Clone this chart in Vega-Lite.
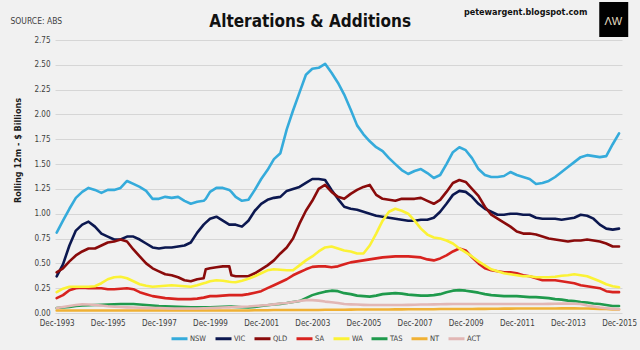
{
  "$schema": "https://vega.github.io/schema/vega-lite/v6.json",
  "width": 567,
  "height": 273,
  "autosize": {"type": "none"},
  "padding": {"left": 55, "top": 40, "right": 18, "bottom": 37},
  "background": "#f1f1f1",
  "config": {
    "view": {"stroke": null},
    "font": "'Liberation Sans Narrow', 'DejaVu Sans Condensed', 'Liberation Sans', sans-serif",
    "axis": {"labelFont": "'Liberation Sans Narrow', 'DejaVu Sans Condensed', 'Liberation Sans', sans-serif", "titleFont": "'Liberation Sans Narrow', 'DejaVu Sans Condensed', 'Liberation Sans', sans-serif"},
    "legend": {"labelFont": "'Liberation Sans Narrow', 'DejaVu Sans Condensed', 'Liberation Sans', sans-serif"}
  },
  "datasets": {
    "series": [
      {"d":"1993-12-01","NSW":0.81,"VIC":0.37,"QLD":0.41,"SA":0.15,"WA":0.21,"TAS":0.05,"NT":0.025,"ACT":0.05},
      {"d":"1994-03-01","NSW":0.93,"VIC":0.49,"QLD":0.45,"SA":0.18,"WA":0.245,"TAS":0.055,"NT":0.025,"ACT":0.06},
      {"d":"1994-06-01","NSW":1.05,"VIC":0.68,"QLD":0.52,"SA":0.23,"WA":0.265,"TAS":0.06,"NT":0.025,"ACT":0.07},
      {"d":"1994-09-01","NSW":1.16,"VIC":0.83,"QLD":0.58,"SA":0.25,"WA":0.265,"TAS":0.07,"NT":0.025,"ACT":0.08},
      {"d":"1994-12-01","NSW":1.22,"VIC":0.89,"QLD":0.62,"SA":0.255,"WA":0.265,"TAS":0.075,"NT":0.025,"ACT":0.087},
      {"d":"1995-03-01","NSW":1.26,"VIC":0.92,"QLD":0.65,"SA":0.25,"WA":0.265,"TAS":0.078,"NT":0.025,"ACT":0.085},
      {"d":"1995-06-01","NSW":1.24,"VIC":0.87,"QLD":0.65,"SA":0.25,"WA":0.27,"TAS":0.08,"NT":0.025,"ACT":0.08},
      {"d":"1995-09-01","NSW":1.21,"VIC":0.80,"QLD":0.68,"SA":0.25,"WA":0.30,"TAS":0.082,"NT":0.025,"ACT":0.075},
      {"d":"1995-12-01","NSW":1.24,"VIC":0.77,"QLD":0.71,"SA":0.24,"WA":0.34,"TAS":0.085,"NT":0.025,"ACT":0.068},
      {"d":"1996-03-01","NSW":1.24,"VIC":0.74,"QLD":0.72,"SA":0.24,"WA":0.36,"TAS":0.088,"NT":0.025,"ACT":0.063},
      {"d":"1996-06-01","NSW":1.26,"VIC":0.74,"QLD":0.74,"SA":0.245,"WA":0.365,"TAS":0.09,"NT":0.025,"ACT":0.06},
      {"d":"1996-09-01","NSW":1.33,"VIC":0.77,"QLD":0.72,"SA":0.25,"WA":0.35,"TAS":0.09,"NT":0.025,"ACT":0.057},
      {"d":"1996-12-01","NSW":1.30,"VIC":0.77,"QLD":0.64,"SA":0.24,"WA":0.32,"TAS":0.09,"NT":0.025,"ACT":0.055},
      {"d":"1997-03-01","NSW":1.27,"VIC":0.74,"QLD":0.57,"SA":0.21,"WA":0.29,"TAS":0.085,"NT":0.025,"ACT":0.053},
      {"d":"1997-06-01","NSW":1.23,"VIC":0.70,"QLD":0.50,"SA":0.19,"WA":0.275,"TAS":0.08,"NT":0.025,"ACT":0.052},
      {"d":"1997-09-01","NSW":1.15,"VIC":0.66,"QLD":0.45,"SA":0.17,"WA":0.265,"TAS":0.075,"NT":0.025,"ACT":0.05},
      {"d":"1997-12-01","NSW":1.15,"VIC":0.65,"QLD":0.42,"SA":0.16,"WA":0.27,"TAS":0.07,"NT":0.025,"ACT":0.05},
      {"d":"1998-03-01","NSW":1.17,"VIC":0.66,"QLD":0.39,"SA":0.15,"WA":0.275,"TAS":0.067,"NT":0.025,"ACT":0.048},
      {"d":"1998-06-01","NSW":1.16,"VIC":0.66,"QLD":0.38,"SA":0.145,"WA":0.28,"TAS":0.065,"NT":0.025,"ACT":0.046},
      {"d":"1998-09-01","NSW":1.17,"VIC":0.67,"QLD":0.36,"SA":0.14,"WA":0.275,"TAS":0.062,"NT":0.025,"ACT":0.045},
      {"d":"1998-12-01","NSW":1.13,"VIC":0.68,"QLD":0.33,"SA":0.14,"WA":0.27,"TAS":0.06,"NT":0.025,"ACT":0.045},
      {"d":"1999-03-01","NSW":1.10,"VIC":0.71,"QLD":0.32,"SA":0.14,"WA":0.265,"TAS":0.058,"NT":0.025,"ACT":0.045},
      {"d":"1999-06-01","NSW":1.12,"VIC":0.81,"QLD":0.34,"SA":0.145,"WA":0.28,"TAS":0.057,"NT":0.025,"ACT":0.046},
      {"d":"1999-09-01","NSW":1.13,"VIC":0.89,"QLD":0.35,"SA":0.155,"WA":0.30,"TAS":0.057,"NT":0.025,"ACT":0.048},
      {"d":"1999-10-01","NSW":1.15,"VIC":0.91,"QLD":0.44,"SA":0.16,"WA":0.305,"TAS":0.057,"NT":0.025,"ACT":0.048},
      {"d":"1999-12-01","NSW":1.22,"VIC":0.95,"QLD":0.45,"SA":0.17,"WA":0.32,"TAS":0.058,"NT":0.025,"ACT":0.05},
      {"d":"2000-03-01","NSW":1.26,"VIC":0.97,"QLD":0.46,"SA":0.17,"WA":0.33,"TAS":0.06,"NT":0.025,"ACT":0.052},
      {"d":"2000-06-01","NSW":1.26,"VIC":0.93,"QLD":0.47,"SA":0.175,"WA":0.325,"TAS":0.063,"NT":0.025,"ACT":0.055},
      {"d":"2000-09-01","NSW":1.24,"VIC":0.89,"QLD":0.47,"SA":0.18,"WA":0.315,"TAS":0.065,"NT":0.025,"ACT":0.057},
      {"d":"2000-10-01","NSW":1.22,"VIC":0.89,"QLD":0.38,"SA":0.18,"WA":0.313,"TAS":0.064,"NT":0.025,"ACT":0.058},
      {"d":"2000-12-01","NSW":1.17,"VIC":0.89,"QLD":0.37,"SA":0.18,"WA":0.31,"TAS":0.062,"NT":0.025,"ACT":0.06},
      {"d":"2001-03-01","NSW":1.13,"VIC":0.87,"QLD":0.37,"SA":0.18,"WA":0.325,"TAS":0.058,"NT":0.025,"ACT":0.063},
      {"d":"2001-06-01","NSW":1.14,"VIC":0.93,"QLD":0.37,"SA":0.19,"WA":0.345,"TAS":0.057,"NT":0.025,"ACT":0.065},
      {"d":"2001-09-01","NSW":1.24,"VIC":1.03,"QLD":0.40,"SA":0.205,"WA":0.37,"TAS":0.062,"NT":0.027,"ACT":0.07},
      {"d":"2001-12-01","NSW":1.35,"VIC":1.10,"QLD":0.44,"SA":0.22,"WA":0.40,"TAS":0.07,"NT":0.028,"ACT":0.075},
      {"d":"2002-03-01","NSW":1.44,"VIC":1.14,"QLD":0.48,"SA":0.25,"WA":0.43,"TAS":0.078,"NT":0.028,"ACT":0.08},
      {"d":"2002-06-01","NSW":1.55,"VIC":1.16,"QLD":0.53,"SA":0.28,"WA":0.44,"TAS":0.085,"NT":0.03,"ACT":0.087},
      {"d":"2002-09-01","NSW":1.61,"VIC":1.17,"QLD":0.60,"SA":0.31,"WA":0.435,"TAS":0.092,"NT":0.03,"ACT":0.095},
      {"d":"2002-12-01","NSW":1.85,"VIC":1.23,"QLD":0.66,"SA":0.34,"WA":0.43,"TAS":0.10,"NT":0.03,"ACT":0.10},
      {"d":"2003-03-01","NSW":2.04,"VIC":1.25,"QLD":0.75,"SA":0.38,"WA":0.43,"TAS":0.11,"NT":0.03,"ACT":0.11},
      {"d":"2003-06-01","NSW":2.22,"VIC":1.27,"QLD":0.90,"SA":0.41,"WA":0.48,"TAS":0.12,"NT":0.03,"ACT":0.12},
      {"d":"2003-09-01","NSW":2.40,"VIC":1.31,"QLD":1.03,"SA":0.44,"WA":0.53,"TAS":0.15,"NT":0.03,"ACT":0.13},
      {"d":"2003-12-01","NSW":2.46,"VIC":1.35,"QLD":1.13,"SA":0.465,"WA":0.57,"TAS":0.18,"NT":0.03,"ACT":0.13},
      {"d":"2004-03-01","NSW":2.47,"VIC":1.35,"QLD":1.25,"SA":0.47,"WA":0.62,"TAS":0.20,"NT":0.03,"ACT":0.125},
      {"d":"2004-06-01","NSW":2.51,"VIC":1.34,"QLD":1.29,"SA":0.47,"WA":0.66,"TAS":0.215,"NT":0.032,"ACT":0.115},
      {"d":"2004-09-01","NSW":2.42,"VIC":1.24,"QLD":1.22,"SA":0.46,"WA":0.67,"TAS":0.225,"NT":0.032,"ACT":0.108},
      {"d":"2004-12-01","NSW":2.32,"VIC":1.15,"QLD":1.17,"SA":0.47,"WA":0.65,"TAS":0.22,"NT":0.033,"ACT":0.10},
      {"d":"2005-03-01","NSW":2.20,"VIC":1.07,"QLD":1.15,"SA":0.49,"WA":0.63,"TAS":0.20,"NT":0.033,"ACT":0.09},
      {"d":"2005-06-01","NSW":2.05,"VIC":1.05,"QLD":1.20,"SA":0.51,"WA":0.62,"TAS":0.19,"NT":0.034,"ACT":0.087},
      {"d":"2005-09-01","NSW":1.89,"VIC":1.04,"QLD":1.24,"SA":0.52,"WA":0.60,"TAS":0.175,"NT":0.035,"ACT":0.085},
      {"d":"2005-12-01","NSW":1.80,"VIC":1.02,"QLD":1.27,"SA":0.53,"WA":0.60,"TAS":0.17,"NT":0.035,"ACT":0.082},
      {"d":"2006-03-01","NSW":1.73,"VIC":1.00,"QLD":1.29,"SA":0.54,"WA":0.68,"TAS":0.165,"NT":0.035,"ACT":0.08},
      {"d":"2006-06-01","NSW":1.67,"VIC":0.98,"QLD":1.19,"SA":0.55,"WA":0.80,"TAS":0.175,"NT":0.035,"ACT":0.08},
      {"d":"2006-09-01","NSW":1.63,"VIC":0.97,"QLD":1.15,"SA":0.56,"WA":0.93,"TAS":0.19,"NT":0.036,"ACT":0.08},
      {"d":"2006-12-01","NSW":1.56,"VIC":0.96,"QLD":1.14,"SA":0.565,"WA":1.02,"TAS":0.195,"NT":0.036,"ACT":0.08},
      {"d":"2007-03-01","NSW":1.50,"VIC":0.95,"QLD":1.13,"SA":0.57,"WA":1.05,"TAS":0.20,"NT":0.037,"ACT":0.08},
      {"d":"2007-06-01","NSW":1.44,"VIC":0.94,"QLD":1.15,"SA":0.57,"WA":1.03,"TAS":0.195,"NT":0.037,"ACT":0.08},
      {"d":"2007-09-01","NSW":1.40,"VIC":0.93,"QLD":1.15,"SA":0.57,"WA":1.00,"TAS":0.185,"NT":0.038,"ACT":0.082},
      {"d":"2007-12-01","NSW":1.43,"VIC":0.93,"QLD":1.15,"SA":0.565,"WA":0.93,"TAS":0.18,"NT":0.038,"ACT":0.083},
      {"d":"2008-03-01","NSW":1.45,"VIC":0.94,"QLD":1.16,"SA":0.56,"WA":0.85,"TAS":0.175,"NT":0.038,"ACT":0.085},
      {"d":"2008-06-01","NSW":1.41,"VIC":0.94,"QLD":1.13,"SA":0.54,"WA":0.79,"TAS":0.175,"NT":0.038,"ACT":0.086},
      {"d":"2008-09-01","NSW":1.36,"VIC":0.96,"QLD":1.10,"SA":0.53,"WA":0.76,"TAS":0.18,"NT":0.038,"ACT":0.087},
      {"d":"2008-12-01","NSW":1.39,"VIC":1.02,"QLD":1.14,"SA":0.55,"WA":0.75,"TAS":0.19,"NT":0.04,"ACT":0.088},
      {"d":"2009-03-01","NSW":1.50,"VIC":1.10,"QLD":1.22,"SA":0.58,"WA":0.73,"TAS":0.21,"NT":0.04,"ACT":0.089},
      {"d":"2009-06-01","NSW":1.62,"VIC":1.19,"QLD":1.31,"SA":0.62,"WA":0.70,"TAS":0.225,"NT":0.04,"ACT":0.09},
      {"d":"2009-09-01","NSW":1.67,"VIC":1.23,"QLD":1.34,"SA":0.65,"WA":0.65,"TAS":0.23,"NT":0.04,"ACT":0.09},
      {"d":"2009-12-01","NSW":1.64,"VIC":1.22,"QLD":1.32,"SA":0.63,"WA":0.61,"TAS":0.225,"NT":0.04,"ACT":0.09},
      {"d":"2010-03-01","NSW":1.56,"VIC":1.17,"QLD":1.25,"SA":0.56,"WA":0.57,"TAS":0.215,"NT":0.04,"ACT":0.09},
      {"d":"2010-06-01","NSW":1.45,"VIC":1.10,"QLD":1.18,"SA":0.50,"WA":0.52,"TAS":0.205,"NT":0.042,"ACT":0.09},
      {"d":"2010-09-01","NSW":1.39,"VIC":1.05,"QLD":1.07,"SA":0.45,"WA":0.48,"TAS":0.19,"NT":0.042,"ACT":0.09},
      {"d":"2010-12-01","NSW":1.37,"VIC":1.02,"QLD":0.99,"SA":0.43,"WA":0.44,"TAS":0.18,"NT":0.043,"ACT":0.09},
      {"d":"2011-03-01","NSW":1.37,"VIC":0.99,"QLD":0.95,"SA":0.42,"WA":0.42,"TAS":0.175,"NT":0.043,"ACT":0.09},
      {"d":"2011-06-01","NSW":1.38,"VIC":0.99,"QLD":0.91,"SA":0.41,"WA":0.40,"TAS":0.17,"NT":0.044,"ACT":0.09},
      {"d":"2011-09-01","NSW":1.42,"VIC":1.00,"QLD":0.87,"SA":0.41,"WA":0.39,"TAS":0.17,"NT":0.044,"ACT":0.09},
      {"d":"2011-12-01","NSW":1.39,"VIC":1.00,"QLD":0.82,"SA":0.40,"WA":0.38,"TAS":0.17,"NT":0.045,"ACT":0.09},
      {"d":"2012-03-01","NSW":1.37,"VIC":0.99,"QLD":0.80,"SA":0.38,"WA":0.37,"TAS":0.165,"NT":0.045,"ACT":0.09},
      {"d":"2012-06-01","NSW":1.35,"VIC":0.99,"QLD":0.80,"SA":0.37,"WA":0.37,"TAS":0.16,"NT":0.045,"ACT":0.09},
      {"d":"2012-09-01","NSW":1.30,"VIC":0.96,"QLD":0.79,"SA":0.35,"WA":0.36,"TAS":0.16,"NT":0.045,"ACT":0.09},
      {"d":"2012-12-01","NSW":1.31,"VIC":0.95,"QLD":0.77,"SA":0.33,"WA":0.36,"TAS":0.155,"NT":0.046,"ACT":0.09},
      {"d":"2013-03-01","NSW":1.33,"VIC":0.95,"QLD":0.75,"SA":0.33,"WA":0.36,"TAS":0.15,"NT":0.046,"ACT":0.092},
      {"d":"2013-06-01","NSW":1.37,"VIC":0.95,"QLD":0.74,"SA":0.33,"WA":0.365,"TAS":0.14,"NT":0.046,"ACT":0.093},
      {"d":"2013-09-01","NSW":1.42,"VIC":0.94,"QLD":0.73,"SA":0.32,"WA":0.375,"TAS":0.135,"NT":0.047,"ACT":0.094},
      {"d":"2013-12-01","NSW":1.47,"VIC":0.95,"QLD":0.72,"SA":0.31,"WA":0.38,"TAS":0.125,"NT":0.047,"ACT":0.095},
      {"d":"2014-03-01","NSW":1.52,"VIC":0.96,"QLD":0.73,"SA":0.30,"WA":0.39,"TAS":0.12,"NT":0.047,"ACT":0.093},
      {"d":"2014-06-01","NSW":1.57,"VIC":0.99,"QLD":0.73,"SA":0.28,"WA":0.38,"TAS":0.11,"NT":0.046,"ACT":0.09},
      {"d":"2014-09-01","NSW":1.59,"VIC":0.98,"QLD":0.74,"SA":0.27,"WA":0.37,"TAS":0.105,"NT":0.045,"ACT":0.075},
      {"d":"2014-12-01","NSW":1.58,"VIC":0.95,"QLD":0.73,"SA":0.26,"WA":0.345,"TAS":0.095,"NT":0.044,"ACT":0.065},
      {"d":"2015-03-01","NSW":1.57,"VIC":0.89,"QLD":0.72,"SA":0.25,"WA":0.32,"TAS":0.09,"NT":0.042,"ACT":0.055},
      {"d":"2015-06-01","NSW":1.58,"VIC":0.85,"QLD":0.70,"SA":0.22,"WA":0.29,"TAS":0.08,"NT":0.04,"ACT":0.048},
      {"d":"2015-09-01","NSW":1.70,"VIC":0.84,"QLD":0.67,"SA":0.21,"WA":0.27,"TAS":0.07,"NT":0.037,"ACT":0.042},
      {"d":"2015-12-01","NSW":1.81,"VIC":0.85,"QLD":0.67,"SA":0.21,"WA":0.26,"TAS":0.07,"NT":0.035,"ACT":0.037}
    ]
  },
  "layer": [
    {
      "data": {"name": "series"},
      "transform": [
        {"fold": ["NSW", "VIC", "QLD", "SA", "WA", "TAS", "NT", "ACT"], "as": ["state", "value"]}
      ],
      "mark": {"type": "line", "strokeWidth": 2.6, "strokeJoin": "round", "strokeCap": "round"},
      "encoding": {
        "x": {
          "field": "d",
          "type": "temporal",
          "scale": {
            "type": "utc",
            "nice": false,
            "domain": [
              {"year": 1993, "month": 11, "date": 7, "utc": true},
              {"year": 2016, "month": 1, "date": 12, "utc": true}
            ]
          },
          "axis": {
            "title": null,
            "format": "%b-%Y",
            "values": [
              {"year": 1993, "month": 12, "date": 1, "utc": true},
              {"year": 1995, "month": 12, "date": 1, "utc": true},
              {"year": 1997, "month": 12, "date": 1, "utc": true},
              {"year": 1999, "month": 12, "date": 1, "utc": true},
              {"year": 2001, "month": 12, "date": 1, "utc": true},
              {"year": 2003, "month": 12, "date": 1, "utc": true},
              {"year": 2005, "month": 12, "date": 1, "utc": true},
              {"year": 2007, "month": 12, "date": 1, "utc": true},
              {"year": 2009, "month": 12, "date": 1, "utc": true},
              {"year": 2011, "month": 12, "date": 1, "utc": true},
              {"year": 2013, "month": 12, "date": 1, "utc": true},
              {"year": 2015, "month": 12, "date": 1, "utc": true}
            ],
            "grid": false,
            "ticks": false,
            "domain": false,
            "labelFontSize": 8,
            "labelColor": "#404040",
            "labelPadding": 6,
            "labelFlush": false,
            "labelOverlap": false
          }
        },
        "y": {
          "field": "value",
          "type": "quantitative",
          "scale": {"domain": [0, 2.75], "nice": false, "zero": true},
          "axis": {
            "title": "Rolling 12m - $ Billions",
            "titleFontSize": 9,
            "titleFontWeight": "bold",
            "titleColor": "#1a1a1a",
            "titleX": -38,
            "titleY": 110,
            "titleAngle": -90,
            "titleAlign": "center",
            "titleBaseline": "middle",
            "values": [0, 0.25, 0.5, 0.75, 1, 1.25, 1.5, 1.75, 2, 2.25, 2.5, 2.75],
            "format": ".2f",
            "grid": true,
            "gridColor": "#d6d6d6",
            "gridWidth": 1,
            "ticks": false,
            "domain": false,
            "labelFontSize": 8,
            "labelColor": "#404040",
            "labelPadding": 5,
            "labelOverlap": false
          }
        },
        "color": {
          "field": "state",
          "type": "nominal",
          "scale": {
            "domain": ["NSW", "VIC", "QLD", "SA", "WA", "TAS", "NT", "ACT"],
            "range": ["#35abdb", "#0c1850", "#8a0b0b", "#d8231f", "#fbf235", "#1f9a4c", "#f0b134", "#e2b7b5"]
          },
          "legend": {
            "title": null,
            "orient": "none",
            "direction": "horizontal",
            "legendX": 115,
            "legendY": 289,
            "symbolType": "stroke",
            "symbolSize": 256,
            "symbolStrokeWidth": 3,
            "labelFontSize": 7.5,
            "labelColor": "#404040",
            "labelOffset": 1,
            "columnPadding": 2
          }
        }
      }
    },
    {
      "data": {"values": [{}]},
      "mark": {"type": "text", "text": "Alterations & Additions", "align": "center", "baseline": "alphabetic", "fontSize": 17, "fontWeight": "bold", "font": "'Liberation Sans Narrow', 'DejaVu Sans Condensed', 'Liberation Sans', sans-serif", "color": "#111111"},
      "encoding": {
        "x": {"datum": {"year": 2003, "month": 11, "date": 1, "utc": true}, "type": "temporal"},
        "y": {"datum": 2.884, "type": "quantitative", "axis": {"title": "Rolling 12m - $ Billions", "values": [0, 0.25, 0.5, 0.75, 1, 1.25, 1.5, 1.75, 2, 2.25, 2.5, 2.75], "format": ".2f", "labelOverlap": false}}
      }
    },
    {
      "data": {"values": [{}]},
      "mark": {"type": "text", "text": "SOURCE: ABS", "align": "left", "baseline": "alphabetic", "fontSize": 8.5, "font": "'Liberation Sans Narrow', 'DejaVu Sans Condensed', 'Liberation Sans', sans-serif", "color": "#404040"},
      "encoding": {
        "x": {"datum": {"year": 1992, "month": 2, "date": 10, "utc": true}, "type": "temporal"},
        "y": {"datum": 2.915, "type": "quantitative", "axis": {"title": "Rolling 12m - $ Billions", "values": [0, 0.25, 0.5, 0.75, 1, 1.25, 1.5, 1.75, 2, 2.25, 2.5, 2.75], "format": ".2f", "labelOverlap": false}}
      }
    },
    {
      "data": {"values": [{}]},
      "mark": {"type": "text", "text": "petewargent.blogspot.com", "align": "right", "baseline": "alphabetic", "fontSize": 9, "fontWeight": "bold", "font": "'Liberation Sans Narrow', 'DejaVu Sans Condensed', 'Liberation Sans', sans-serif", "color": "#111111"},
      "encoding": {
        "x": {"datum": {"year": 2014, "month": 9, "date": 4, "utc": true}, "type": "temporal"},
        "y": {"datum": 3.0, "type": "quantitative", "axis": {"title": "Rolling 12m - $ Billions", "values": [0, 0.25, 0.5, 0.75, 1, 1.25, 1.5, 1.75, 2, 2.25, 2.5, 2.75], "format": ".2f", "labelOverlap": false}}
      }
    },
    {
      "data": {"values": [{}]},
      "mark": {"type": "rect", "color": "#000000"},
      "encoding": {
        "x": {"datum": {"year": 2015, "month": 2, "date": 21, "utc": true}, "type": "temporal"},
        "x2": {"datum": {"year": 2016, "month": 4, "date": 10, "utc": true}},
        "y": {"datum": 3.132, "type": "quantitative", "axis": {"title": "Rolling 12m - $ Billions", "values": [0, 0.25, 0.5, 0.75, 1, 1.25, 1.5, 1.75, 2, 2.25, 2.5, 2.75], "format": ".2f", "labelOverlap": false}},
        "y2": {"datum": 2.78}
      }
    },
    {
      "data": {"values": [{}]},
      "mark": {"type": "text", "text": "ΛW", "align": "center", "baseline": "middle", "fontSize": 11, "font": "Liberation Sans", "color": "#e4dcc0"},
      "encoding": {
        "x": {"datum": {"year": 2015, "month": 9, "date": 10, "utc": true}, "type": "temporal"},
        "y": {"datum": 2.93, "type": "quantitative", "axis": {"title": "Rolling 12m - $ Billions", "values": [0, 0.25, 0.5, 0.75, 1, 1.25, 1.5, 1.75, 2, 2.25, 2.5, 2.75], "format": ".2f", "labelOverlap": false}}
      }
    }
  ]
}
